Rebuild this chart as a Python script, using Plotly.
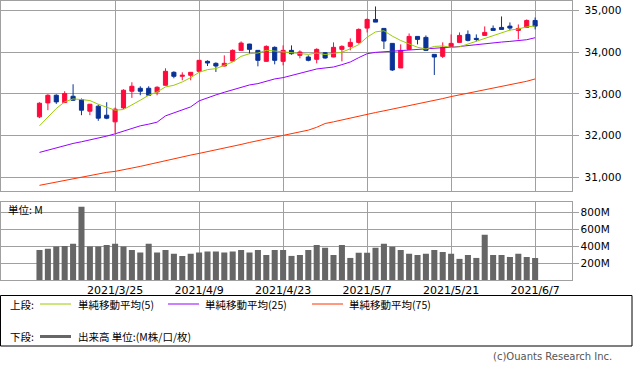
import plotly.graph_objects as go

dates = ["2021/3/12", "2021/3/15", "2021/3/16", "2021/3/17", "2021/3/18", "2021/3/19",
         "2021/3/22", "2021/3/23", "2021/3/24", "2021/3/25", "2021/3/26", "2021/3/29",
         "2021/3/30", "2021/3/31", "2021/4/1", "2021/4/5", "2021/4/6", "2021/4/7",
         "2021/4/8", "2021/4/9", "2021/4/12", "2021/4/13", "2021/4/14", "2021/4/15",
         "2021/4/16", "2021/4/19", "2021/4/20", "2021/4/21", "2021/4/22", "2021/4/23",
         "2021/4/26", "2021/4/27", "2021/4/28", "2021/4/29", "2021/4/30", "2021/5/3",
         "2021/5/4", "2021/5/5", "2021/5/6", "2021/5/7", "2021/5/10", "2021/5/11",
         "2021/5/12", "2021/5/13", "2021/5/14", "2021/5/17", "2021/5/18", "2021/5/19",
         "2021/5/20", "2021/5/21", "2021/5/24", "2021/5/25", "2021/5/26", "2021/5/27",
         "2021/5/28", "2021/6/1", "2021/6/2", "2021/6/3", "2021/6/4", "2021/6/7"]

opens = [32450, 32785, 32968, 32793, 32944, 32865, 32586, 32705, 32490, 32331,
         32665, 33064, 33135, 33135, 33048, 33207, 33518, 33422, 33446, 33542,
         33781, 33733, 33669, 33789, 34044, 34195, 34044, 33781, 34116, 33781,
         34044, 33924, 33884, 33829, 33988, 33884, 34068, 34139, 34235, 34578,
         34785, 34570, 34211, 33622, 34068, 34378, 34355, 33948, 33900, 34116,
         34235, 34426, 34331, 34402, 34570, 34594, 34625, 34522, 34594, 34761]
highs = [32800, 32992, 32990, 33064, 33231, 32890, 32760, 32745, 32801, 32673,
         33112, 33279, 33183, 33183, 33183, 33614, 33542, 33518, 33518, 33805,
         33805, 33757, 33924, 34068, 34259, 34200, 34050, 34163, 34139, 34163,
         34163, 34044, 33924, 34092, 34004, 34235, 34163, 34331, 34570, 34809,
         35096, 34570, 34211, 34187, 34450, 34378, 34402, 33948, 34235, 34426,
         34474, 34522, 34426, 34618, 34641, 34857, 34713, 34665, 34785, 34833]
lows = [32420, 32610, 32760, 32780, 32833, 32490, 32490, 32355, 32394, 32068,
        32640, 32904, 32968, 32960, 32968, 33200, 33375, 33327, 33327, 33530,
        33669, 33526, 33660, 33780, 34040, 33964, 33661, 33770, 33709, 33685,
        33940, 33853, 33781, 33733, 33845, 33880, 33781, 34044, 34203, 34474,
        34721, 34076, 33550, 33622, 34068, 34187, 34028, 33454, 33860, 34116,
        34235, 34259, 34259, 34402, 34522, 34546, 34522, 34307, 34594, 34546]
closes = [32777, 32968, 32809, 33008, 32849, 32610, 32753, 32418, 32418, 32634,
          33088, 33183, 33064, 32968, 33159, 33542, 33422, 33446, 33518, 33805,
          33741, 33669, 33733, 34044, 34219, 34068, 33805, 34139, 33805, 34044,
          33964, 34004, 33805, 34068, 33861, 34116, 34139, 34235, 34546, 34785,
          34721, 34267, 33574, 34044, 34378, 34307, 34044, 33884, 34116, 34211,
          34402, 34283, 34307, 34474, 34522, 34546, 34578, 34570, 34761, 34625]

ma5 = [32235, 32450, 32650, 32809, 32880, 32865, 32841, 32753, 32673, 32610,
       32626, 32729, 32849, 32968, 33048, 33167, 33207, 33287, 33390, 33518,
       33582, 33606, 33685, 33765, 33900, 33964, 33980, 34044, 34028, 34004,
       33980, 33964, 33948, 33980, 33944, 33971, 34000, 34082, 34181, 34360,
       34486, 34514, 34385, 34280, 34197, 34118, 34076, 34138, 34150, 34115,
       34128, 34196, 34264, 34340, 34405, 34473, 34530, 34556, 34608, 34628]
ma25 = [31598, 31653, 31693, 31765, 31813, 31853, 31892, 31940, 31988, 32044,
        32108, 32171, 32235, 32275, 32323, 32474, 32546, 32610, 32689, 32833,
        32912, 32976, 33040, 33104, 33151, 33215, 33247, 33311, 33359, 33390,
        33438, 33486, 33550, 33598, 33622, 33645, 33701, 33765, 33869, 33964,
        33996, 34012, 34028, 34044, 34060, 34076, 34084, 34100, 34108, 34116,
        34139, 34163, 34187, 34211, 34227, 34243, 34259, 34275, 34299, 34347]
ma75 = [30809, 30849, 30889, 30936, 30976, 31016, 31056, 31096, 31120, 31143,
        31175, 31223, 31263, 31311, 31359, 31398, 31446, 31486, 31534, 31574,
        31614, 31661, 31701, 31749, 31789, 31837, 31877, 31924, 31964, 32012,
        32044, 32084, 32132, 32200, 32291, 32331, 32379, 32418, 32458, 32506,
        32554, 32594, 32634, 32673, 32713, 32753, 32801, 32849, 32888, 32936,
        32976, 33016, 33056, 33096, 33135, 33175, 33215, 33255, 33303, 33359]

volume = [355, 367, 394, 402, 426, 864, 394, 394, 414, 426,
          394, 355, 323, 426, 323, 355, 308, 284, 308, 323,
          335, 335, 323, 335, 355, 323, 355, 296, 355, 355,
          284, 296, 355, 414, 379, 296, 414, 260, 320, 320,
          379, 426, 391, 355, 308, 296, 308, 355, 331, 308,
          249, 296, 260, 533, 296, 296, 272, 308, 272, 260]

price_ticks = [31000, 32000, 33000, 34000, 35000]
price_ticktext = ["31,000", "32,000", "33,000", "34,000", "35,000"]
vol_ticks = [200, 400, 600, 800]
vol_ticktext = ["200M", "400M", "600M", "800M"]
date_tick_idx = [9, 19, 29, 39, 49, 59]

W, H = 633, 372
idx = list(range(len(dates)))

RED = "#ff0a3c"
BLUE = "#0a3296"
GRID = "#a0a0a0"

fig = go.Figure()
fig.add_trace(go.Candlestick(
    x=idx, open=opens, high=highs, low=lows, close=closes,
    increasing=dict(line=dict(color=RED, width=1), fillcolor=RED),
    decreasing=dict(line=dict(color=BLUE, width=1), fillcolor=BLUE),
    whiskerwidth=0, xaxis="x", yaxis="y", hoverinfo="skip", showlegend=False))
fig.add_trace(go.Scatter(x=idx, y=ma75, mode="lines", line=dict(color="#ff3300", width=1),
                         xaxis="x", yaxis="y", showlegend=False, hoverinfo="skip"))
fig.add_trace(go.Scatter(x=idx, y=ma25, mode="lines", line=dict(color="#9900ff", width=1),
                         xaxis="x", yaxis="y", showlegend=False, hoverinfo="skip"))
fig.add_trace(go.Scatter(x=idx, y=ma5, mode="lines", line=dict(color="#99cc00", width=1),
                         xaxis="x", yaxis="y", showlegend=False, hoverinfo="skip"))
fig.add_trace(go.Bar(x=idx, y=volume, marker=dict(color="#666666", line=dict(width=0)),
                     xaxis="x2", yaxis="y2", showlegend=False, hoverinfo="skip"))

xr = [-4.64, 63.33]
xdom = [0.5 / W, 571.5 / W]
tickfont = dict(family="DejaVu Sans", size=10.5, color="#000000")

common_x = dict(range=xr, domain=xdom, showgrid=True, gridcolor=GRID, gridwidth=1,
                tickmode="array", tickvals=date_tick_idx,
                ticktext=[dates[i] for i in date_tick_idx],
                showline=True, linecolor=GRID, linewidth=1, mirror=True,
                zeroline=False, ticks="", fixedrange=True)

fig.update_layout(
    width=W, height=H,
    margin=dict(l=0, r=0, t=0, b=0),
    paper_bgcolor="white", plot_bgcolor="white",
    bargap=0.28,
    xaxis=dict(**common_x, showticklabels=False, anchor="y",
               rangeslider=dict(visible=False)),
    xaxis2=dict(**common_x, showticklabels=True, anchor="y2",
                tickfont=dict(family="DejaVu Sans", size=11, color="#000000"),
                ticklabelstandoff=0),
    yaxis=dict(domain=[1 - 190.5 / H, 1 - 0.5 / H], range=[30685, 35239], side="right",
               anchor="x", tickmode="array", tickvals=price_ticks, ticktext=price_ticktext,
               showgrid=True, gridcolor=GRID, ticks="outside", ticklen=6, tickcolor=GRID,
               showline=True, linecolor=GRID, mirror=True, zeroline=False,
               tickfont=tickfont, ticklabelstandoff=4, fixedrange=True),
    yaxis2=dict(domain=[1 - 280 / H, 1 - 201.7 / H], range=[0, 923], side="right",
                anchor="x2", tickmode="array", tickvals=vol_ticks, ticktext=vol_ticktext,
                showgrid=True, gridcolor=GRID, ticks="outside", ticklen=6, tickcolor=GRID,
                showline=True, linecolor=GRID, mirror=True, zeroline=False,
                tickfont=tickfont, fixedrange=True),
)

def px(x):
    return x / W

def py(y):
    return 1 - y / H

ROW1 = 304
ROW2 = 336.5
shapes = [
    dict(type="rect", xref="paper", yref="paper", x0=px(0.5), x1=px(632), y0=py(295.5), y1=py(346),
         line=dict(color="#000000", width=1)),
    dict(type="line", xref="paper", yref="paper", x0=px(40), x1=px(71), y0=py(ROW1), y1=py(ROW1),
         line=dict(color="#99cc00", width=1)),
    dict(type="line", xref="paper", yref="paper", x0=px(168), x1=px(199), y0=py(ROW1), y1=py(ROW1),
         line=dict(color="#9900ff", width=1)),
    dict(type="line", xref="paper", yref="paper", x0=px(312), x1=px(343), y0=py(ROW1), y1=py(ROW1),
         line=dict(color="#ff3300", width=1)),
    dict(type="line", xref="paper", yref="paper", x0=px(40), x1=px(71), y0=py(ROW2), y1=py(ROW2),
         line=dict(color="#666666", width=3)),
]
fig.update_layout(shapes=shapes)

jp = dict(family="Noto Sans CJK JP", size=10.5, color="#000000")
ann = [
    ("上段:", 8, ROW1), ("単純移動平均(5)", 76, ROW1), ("単純移動平均(25)", 203, ROW1),
    ("単純移動平均(75)", 347, ROW1), ("下段:", 8, ROW2), ("出来高 単位:(M株/口/枚)", 76, ROW2),
    ("単位: M", 6, 209.5),
]
annotations = [dict(text=t, x=px(x), y=py(y), xref="paper", yref="paper", xanchor="left",
                    yanchor="middle", showarrow=False, font=jp) for t, x, y in ann]
annotations.append(dict(text="(c)Ouants Research Inc.", x=px(614), y=py(356), xref="paper",
                        yref="paper", xanchor="right", yanchor="middle", showarrow=False,
                        font=dict(family="DejaVu Sans", size=10, color="#555555")))
fig.update_layout(annotations=annotations)

fig.write_html("out.html", config={"displayModeBar": False, "staticPlot": True},
               post_script="document.body.style.margin='0';document.body.style.overflow='hidden';")
